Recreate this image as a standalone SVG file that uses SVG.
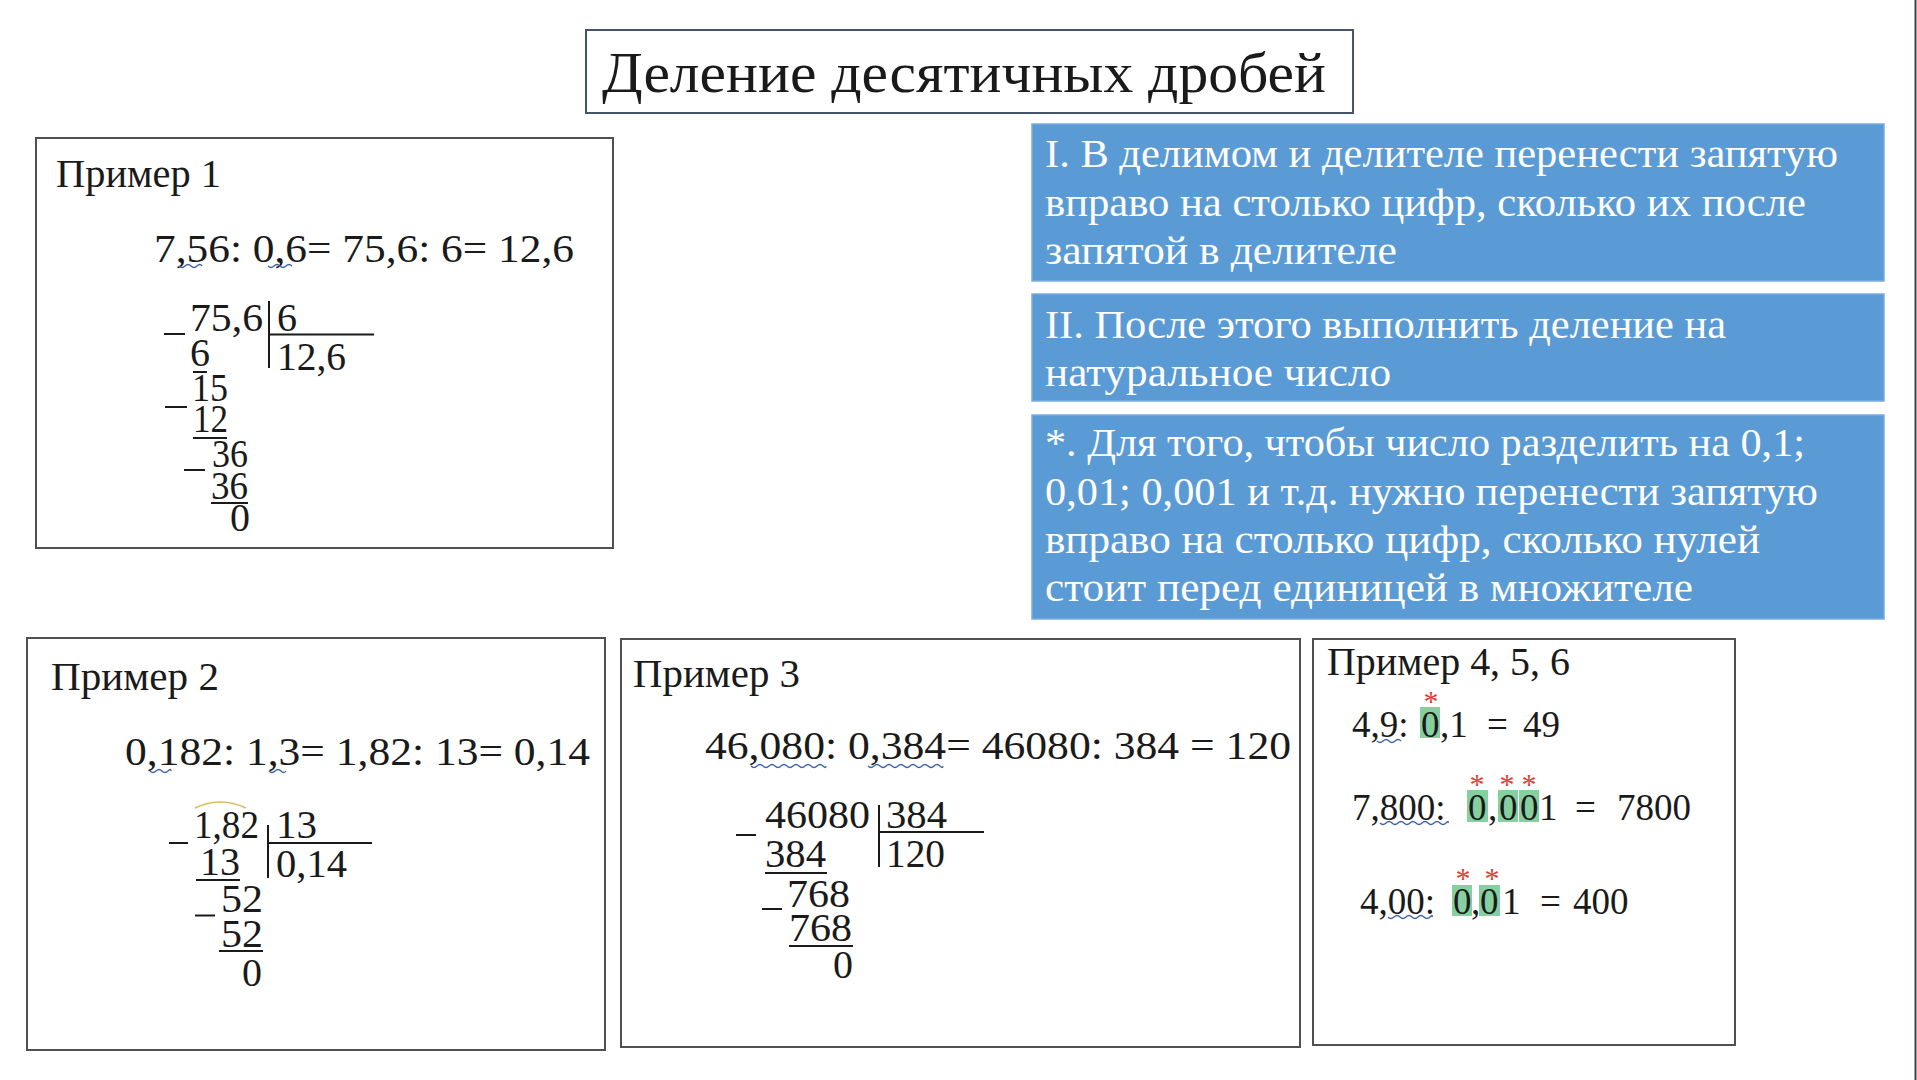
<svg xmlns="http://www.w3.org/2000/svg" width="1917" height="1080" viewBox="0 0 1917 1080">
<style>
.t{font-family:"Liberation Serif","Times New Roman",serif;fill:#1a1a1a}
.box{fill:#ffffff;stroke:#505050;stroke-width:2}
.blue{fill:#5b9bd5;stroke:#78ade0;stroke-width:1.5}
.w{font-family:"Liberation Serif","Times New Roman",serif;fill:#ffffff;font-size:40px}
.h{font-size:40px}
.n{font-size:40px}
.m{font-size:37px}
.ln{stroke:#1a1a1a;stroke-width:2;fill:none}
.wav{stroke:#3b62a8;stroke-width:1.3;fill:none}
.hl{fill:#86d0a0}
.ast{font-family:"Liberation Serif","Times New Roman",serif;font-size:30px;fill:#e53935;text-anchor:middle}
</style>
<rect x="0" y="0" width="1917" height="1080" fill="#ffffff"/>
<line x1="1915.5" y1="0" x2="1915.5" y2="1080" stroke="#3a4250" stroke-width="2"/>

<g id="title">
<rect x="586" y="30" width="767" height="83" fill="#ffffff" stroke="#44546a" stroke-width="2"/>
<text class="t" x="602" y="92" font-size="58" textLength="724" lengthAdjust="spacingAndGlyphs">Деление десятичных дробей</text>
</g>

<g id="rule1">
<rect class="blue" x="1032" y="124" width="852" height="157"/>
<text class="w" x="1045" y="167" textLength="793" lengthAdjust="spacingAndGlyphs">I. В делимом и делителе перенести запятую</text>
<text class="w" x="1045" y="216" textLength="761" lengthAdjust="spacingAndGlyphs">вправо на столько цифр, сколько их после</text>
<text class="w" x="1045" y="264" textLength="352" lengthAdjust="spacingAndGlyphs">запятой в делителе</text>
</g>

<g id="rule2">
<rect class="blue" x="1032" y="294" width="852" height="107"/>
<text class="w" x="1045" y="338" textLength="681" lengthAdjust="spacingAndGlyphs">II. После этого выполнить деление на</text>
<text class="w" x="1045" y="386" textLength="346" lengthAdjust="spacingAndGlyphs">натуральное число</text>
</g>

<g id="rule3">
<rect class="blue" x="1032" y="415" width="852" height="204"/>
<text class="w" x="1045" y="456" textLength="760" lengthAdjust="spacingAndGlyphs">*. Для того, чтобы число разделить на 0,1;</text>
<text class="w" x="1045" y="505" textLength="773" lengthAdjust="spacingAndGlyphs">0,01; 0,001 и т.д. нужно перенести запятую</text>
<text class="w" x="1045" y="553" textLength="715" lengthAdjust="spacingAndGlyphs">вправо на столько цифр, сколько нулей</text>
<text class="w" x="1045" y="601" textLength="648" lengthAdjust="spacingAndGlyphs">стоит перед единицей в множителе</text>
</g>

<g id="example1">
<rect class="box" x="36" y="138" width="577" height="410"/>
<text class="t h" x="56" y="187" textLength="165" lengthAdjust="spacingAndGlyphs">Пример 1</text>
<text class="t n" x="154" y="262" textLength="420" lengthAdjust="spacingAndGlyphs">7,56: 0,6= 75,6: 6= 12,6</text>
<text class="t n" x="190" y="331" textLength="73" lengthAdjust="spacingAndGlyphs">75,6</text>
<text class="t n" x="277" y="331">6</text>
<text class="t n" x="190" y="366">6</text>
<text class="t n" x="277" y="370" textLength="69" lengthAdjust="spacingAndGlyphs">12,6</text>
<text class="t n" x="192" y="401" textLength="36" lengthAdjust="spacingAndGlyphs">15</text>
<text class="t n" x="193" y="432" textLength="35" lengthAdjust="spacingAndGlyphs">12</text>
<text class="t n" x="212" y="467" textLength="36" lengthAdjust="spacingAndGlyphs">36</text>
<text class="t n" x="211" y="499" textLength="37" lengthAdjust="spacingAndGlyphs">36</text>
<text class="t n" x="230" y="531">0</text>
</g>

<g id="example2">
<rect class="box" x="27" y="638" width="578" height="412"/>
<text class="t h" x="51" y="690" textLength="168" lengthAdjust="spacingAndGlyphs">Пример 2</text>
<text class="t n" x="125" y="765" textLength="465" lengthAdjust="spacingAndGlyphs">0,182: 1,3= 1,82: 13= 0,14</text>
<text class="t n" x="194" y="838" textLength="65" lengthAdjust="spacingAndGlyphs">1,82</text>
<text class="t n" x="276" y="838" textLength="41" lengthAdjust="spacingAndGlyphs">13</text>
<text class="t n" x="200" y="875" textLength="40" lengthAdjust="spacingAndGlyphs">13</text>
<text class="t n" x="276" y="877" textLength="71" lengthAdjust="spacingAndGlyphs">0,14</text>
<text class="t n" x="221" y="912" textLength="42" lengthAdjust="spacingAndGlyphs">52</text>
<text class="t n" x="221" y="947" textLength="42" lengthAdjust="spacingAndGlyphs">52</text>
<text class="t n" x="242" y="986">0</text>
</g>

<g id="example3">
<rect class="box" x="621" y="639" width="679" height="408"/>
<text class="t h" x="633" y="687" textLength="167" lengthAdjust="spacingAndGlyphs">Пример 3</text>
<text class="t n" x="705" y="759" textLength="586" lengthAdjust="spacingAndGlyphs">46,080: 0,384= 46080: 384 = 120</text>
<text class="t n" x="765" y="828" textLength="105" lengthAdjust="spacingAndGlyphs">46080</text>
<text class="t n" x="886" y="828" textLength="61" lengthAdjust="spacingAndGlyphs">384</text>
<text class="t n" x="765" y="867" textLength="61" lengthAdjust="spacingAndGlyphs">384</text>
<text class="t n" x="886" y="867" textLength="59" lengthAdjust="spacingAndGlyphs">120</text>
<text class="t n" x="787" y="907" textLength="63" lengthAdjust="spacingAndGlyphs">768</text>
<text class="t n" x="789" y="941" textLength="63" lengthAdjust="spacingAndGlyphs">768</text>
<text class="t n" x="833" y="978">0</text>
</g>

<g id="example456">
<rect class="box" x="1313" y="639" width="422" height="406"/>
<text class="t h" x="1327" y="675" textLength="243" lengthAdjust="spacingAndGlyphs">Пример 4, 5, 6</text>
<rect class="hl" x="1420" y="707" width="20" height="31"/>
<rect class="hl" x="1467" y="790" width="21" height="32"/>
<rect class="hl" x="1498" y="790" width="20" height="32"/>
<rect class="hl" x="1519" y="790" width="20" height="32"/>
<rect class="hl" x="1452" y="885" width="20" height="31"/>
<rect class="hl" x="1479" y="885" width="21" height="31"/>
<text class="t m" y="737"><tspan x="1352">4,9: </tspan><tspan x="1421">0</tspan><tspan x="1440">,1 </tspan><tspan x="1487">= </tspan><tspan x="1523">49</tspan></text>
<text class="t m" y="820"><tspan x="1352">7,800: </tspan><tspan x="1468">0</tspan><tspan x="1488">,</tspan><tspan x="1499">0</tspan><tspan x="1520">0</tspan><tspan x="1539">1 </tspan><tspan x="1575">= </tspan><tspan x="1617">7800</tspan></text>
<text class="t m" y="914"><tspan x="1360">4,00: </tspan><tspan x="1453">0</tspan><tspan x="1471">,</tspan><tspan x="1480">0</tspan><tspan x="1502">1 </tspan><tspan x="1540">= </tspan><tspan x="1573">400</tspan></text>
<text class="ast" x="1431" y="711">*</text>
<text class="ast" x="1477" y="794">*</text>
<text class="ast" x="1507" y="794">*</text>
<text class="ast" x="1529" y="794">*</text>
<text class="ast" x="1463" y="888">*</text>
<text class="ast" x="1492" y="888">*</text>
</g>

<g id="connectors">
<!-- long division 1 -->
<line class="ln" x1="269" y1="301" x2="269" y2="368"/>
<line class="ln" x1="269" y1="334.5" x2="374" y2="334.5"/>
<line class="ln" x1="164" y1="334" x2="185" y2="334"/>
<line class="ln" x1="193" y1="372" x2="207" y2="372"/>
<line class="ln" x1="165" y1="407" x2="187" y2="407" stroke-width="3"/>
<line class="ln" x1="193" y1="438" x2="227" y2="438"/>
<line class="ln" x1="184" y1="470" x2="205" y2="470"/>
<line class="ln" x1="211" y1="503" x2="248" y2="503"/>
<!-- long division 2 -->
<line class="ln" x1="268" y1="825" x2="268" y2="878"/>
<line class="ln" x1="268" y1="843" x2="372" y2="843"/>
<line class="ln" x1="169" y1="843" x2="188" y2="843"/>
<line class="ln" x1="196" y1="880" x2="240" y2="880"/>
<line class="ln" x1="195" y1="915.5" x2="215" y2="915.5"/>
<line class="ln" x1="219" y1="951" x2="263" y2="951"/>
<path d="M195,808 Q220,796 246,808" fill="none" stroke="#d9b95a" stroke-width="1.5"/>
<!-- long division 3 -->
<line class="ln" x1="879" y1="805" x2="879" y2="867"/>
<line class="ln" x1="879" y1="832" x2="984" y2="832"/>
<line class="ln" x1="736" y1="835" x2="756" y2="835"/>
<line class="ln" x1="765" y1="873" x2="827" y2="873"/>
<line class="ln" x1="762" y1="909" x2="782" y2="909"/>
<line class="ln" x1="789" y1="946" x2="853" y2="946"/>
<!-- wavy comma-shift marks -->
<path class="wav" d="M179,266 q3,3 6,0 t6,0 t6,0 t5,0"/>
<path class="wav" d="M268,266 q3,3 6,0 t6,0 t6,0 t6,0"/>
<path class="wav" d="M150,771 q3,3 6,0 t6,0 t6,0 t3,0"/>
<path class="wav" d="M269,771 q3,3 6,0 t6,0 t5,0"/>
<path class="wav" d="M751,766 q3,3 6,0 t6,0 t6,0 t6,0 t6,0 t6,0 t6,0 t6,0 t6,0 t6,0 t6,0 t6,0 t3,0"/>
<path class="wav" d="M868,766 q3,3 6,0 t6,0 t6,0 t6,0 t6,0 t6,0 t6,0 t6,0 t6,0 t6,0 t6,0 t6,0 t3,0"/>
<path class="wav" d="M1377,741 q3,3 6,0 t6,0 t6,0 t6,0"/>
<path class="wav" d="M1380,823 q3,3 6,0 t6,0 t6,0 t6,0 t6,0 t6,0 t6,0 t6,0 t6,0 t6,0 t6,0 t2,0"/>
<path class="wav" d="M1388,917 q3,3 6,0 t6,0 t6,0 t6,0 t6,0 t6,0 t6,0 t2,0"/>
</g>
</svg>
